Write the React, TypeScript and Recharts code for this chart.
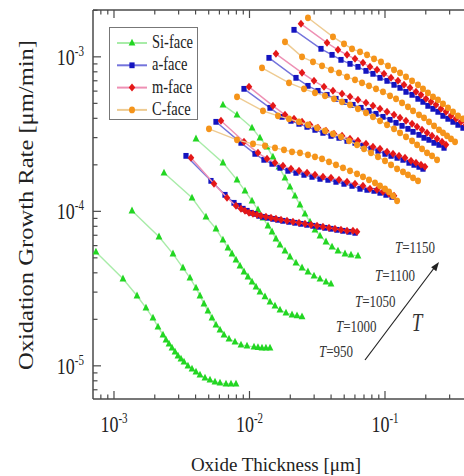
import React from 'react';
import { ScatterChart, Scatter, XAxis, YAxis, Legend } from 'recharts';

const FONT = '"Liberation Serif", "Times New Roman", Times, serif';
const AXIS = '#4a4a4a';

// ---- axes ----
const xDomain = [7e-4, 0.424];
const yDomain = [6.1e-6, 2.01e-3];
const xMajorTicks = [1e-3, 1e-2, 1e-1];
const xMajorLabels = ['-3', '-2', '-1'];
const xMinorTicks = [8e-4, 9e-4, 2e-3, 3e-3, 4e-3, 5e-3, 6e-3, 7e-3, 8e-3, 9e-3, 2e-2, 3e-2, 4e-2, 5e-2, 6e-2, 7e-2, 8e-2, 9e-2, 0.2, 0.3, 0.4];
const yMajorTicks = [1e-5, 1e-4, 1e-3];
const yMajorLabels = ['-5', '-4', '-3'];
const yMinorTicks = [7e-6, 8e-6, 9e-6, 2e-5, 3e-5, 4e-5, 5e-5, 6e-5, 7e-5, 8e-5, 9e-5, 2e-4, 3e-4, 4e-4, 5e-4, 6e-4, 7e-4, 8e-4, 9e-4, 2e-3];
const tempLabels = ['950', '1000', '1050', '1100', '1150'];

// ---- data: [thickness (um), growth rate (um/min)] ----
const si950 = [[7.36e-4,5.46e-5],[1.165e-3,3.66e-5],[1.479e-3,2.84e-5],[1.722e-3,2.37e-5],[1.94e-3,2.04e-5],[2.112e-3,1.786e-5],[2.299e-3,1.587e-5],[2.42e-3,1.473e-5],[2.547e-3,1.388e-5],[2.681e-3,1.307e-5],[2.822e-3,1.232e-5],[2.966e-3,1.16e-5],[3.122e-3,1.11e-5],[3.286e-3,1.061e-5],[3.515e-3,1.0e-5],[3.765e-3,9.56e-6],[4.029e-3,9.14e-6],[4.312e-3,8.74e-6],[4.694e-3,8.36e-6],[5.11e-3,8.11e-6],[5.564e-3,7.87e-6],[6.057e-3,7.76e-6],[6.707e-3,7.64e-6],[7.302e-3,7.64e-6],[7.95e-3,7.64e-6]];
const si1000 = [[1.358e-3,1.008e-4],[2.149e-3,6.84e-5],[2.725e-3,5.31e-5],[3.229e-3,4.31e-5],[3.638e-3,3.71e-5],[4.029e-3,3.19e-5],[4.312e-3,2.84e-5],[4.616e-3,2.52e-5],[4.937e-3,2.27e-5],[5.289e-3,2.04e-5],[5.659e-3,1.84e-5],[6.057e-3,1.71e-5],[6.484e-3,1.587e-5],[7.059e-3,1.495e-5],[7.816e-3,1.43e-5],[8.655e-3,1.367e-5],[9.588e-3,1.347e-5],[1.08e-2,1.327e-5],[1.155e-2,1.317e-5],[1.237e-2,1.307e-5],[1.323e-2,1.307e-5],[1.417e-2,1.307e-5]];
const si1050 = [[2.339e-3,1.775e-4],[3.765e-3,1.223e-4],[4.774e-3,9.21e-5],[5.659e-3,7.71e-5],[6.371e-3,6.54e-5],[6.936e-3,5.8e-5],[7.43e-3,5.31e-5],[7.95e-3,4.85e-5],[8.509e-3,4.43e-5],[9.109e-3,4.06e-5],[9.744e-3,3.77e-5],[1.044e-2,3.49e-5],[1.117e-2,3.24e-5],[1.195e-2,3.01e-5],[1.301e-2,2.8e-5],[1.417e-2,2.59e-5],[1.542e-2,2.44e-5],[1.679e-2,2.3e-5],[1.859e-2,2.2e-5],[2.06e-2,2.14e-5],[2.243e-2,2.11e-5],[2.442e-2,2.08e-5]];
const si1100 = [[4.029e-3,2.947e-4],[6.371e-3,2.061e-4],[8.09e-3,1.599e-4],[9.264e-3,1.357e-4],[1.044e-2,1.169e-4],[1.155e-2,1.023e-4],[1.257e-2,9.08e-5],[1.369e-2,8.06e-5],[1.467e-2,7.37e-5],[1.568e-2,6.64e-5],[1.679e-2,6.07e-5],[1.828e-2,5.55e-5],[1.99e-2,5.08e-5],[2.204e-2,4.64e-5],[2.442e-2,4.31e-5],[2.701e-2,4.06e-5],[2.993e-2,3.82e-5],[3.314e-2,3.655e-5],[3.67e-2,3.49e-5],[3.995e-2,3.39e-5]];
const si1150 = [[6.371e-3,4.89e-4],[8.09e-3,4.213e-4],[1.044e-2,3.471e-4],[1.195e-2,2.991e-4],[1.347e-2,2.615e-4],[1.49e-2,2.253e-4],[1.651e-2,1.941e-4],[1.828e-2,1.647e-4],[1.99e-2,1.44e-4],[2.167e-2,1.26e-4],[2.359e-2,1.102e-4],[2.568e-2,9.63e-5],[2.796e-2,8.55e-5],[3.044e-2,7.59e-5],[3.314e-2,6.94e-5],[3.67e-2,6.35e-5],[4.066e-2,5.89e-5],[4.498e-2,5.55e-5],[5.068e-2,5.31e-5],[5.612e-2,5.23e-5],[6.319e-2,5.15e-5]];

const a950 = [[3.399e-3,2.286e-4],[5.197e-3,1.575e-4],[6.594e-3,1.279e-4],[7.685e-3,1.135e-4],[8.367e-3,1.086e-4],[8.951e-3,1.039e-4],[9.588e-3,1.008e-4],[1.026e-2,9.78e-5],[1.098e-2,9.63e-5],[1.175e-2,9.35e-5],[1.257e-2,9.21e-5],[1.369e-2,9.08e-5],[1.49e-2,8.94e-5],[1.622e-2,8.81e-5],[1.766e-2,8.68e-5],[1.957e-2,8.55e-5],[2.167e-2,8.43e-5],[2.399e-2,8.3e-5],[2.658e-2,8.18e-5],[2.941e-2,8.06e-5],[3.259e-2,7.94e-5],[3.608e-2,7.82e-5],[3.995e-2,7.71e-5],[4.426e-2,7.59e-5],[4.897e-2,7.48e-5],[5.426e-2,7.37e-5],[6.007e-2,7.26e-5]];
const a1000 = [[5.659e-3,3.796e-4],[8.655e-3,2.776e-4],[1.098e-2,2.356e-4],[1.279e-2,2.155e-4],[1.467e-2,2.03e-4],[1.679e-2,1.912e-4],[1.923e-2,1.829e-4],[2.204e-2,1.775e-4],[2.525e-2,1.723e-4],[2.894e-2,1.672e-4],[3.314e-2,1.623e-4],[3.795e-2,1.599e-4],[4.349e-2,1.552e-4],[4.983e-2,1.507e-4],[5.711e-2,1.462e-4],[6.54e-2,1.399e-4],[7.369e-2,1.378e-4],[8.298e-2,1.357e-4],[9.187e-2,1.318e-4],[0.1017,1.279e-4],[0.1127,1.241e-4]];
const a1050 = [[9.109e-3,6.208e-4],[1.417e-2,4.677e-4],[1.738e-2,4.089e-4],[2.024e-2,3.853e-4],[2.32e-2,3.685e-4],[2.658e-2,3.523e-4],[3.044e-2,3.369e-4],[3.486e-2,3.222e-4],[3.995e-2,3.08e-4],[4.577e-2,2.991e-4],[5.245e-2,2.859e-4],[6.007e-2,2.776e-4],[6.879e-2,2.654e-4],[7.883e-2,2.539e-4],[8.876e-2,2.464e-4],[0.1,2.356e-4],[0.1108,2.286e-4],[0.1228,2.22e-4],[0.1358,2.155e-4],[0.1504,2.061e-4],[0.1638,2.0e-4],[0.1783,1.941e-4],[0.1907,1.884e-4]];
const a1100 = [[1.393e-2,9.85e-4],[2.204e-2,7.313e-4],[2.701e-2,6.49e-4],[3.202e-2,6.023e-4],[3.734e-2,5.676e-4],[4.349e-2,5.349e-4],[5.068e-2,5.114e-4],[5.804e-2,4.89e-4],[6.652e-2,4.677e-4],[7.621e-2,4.471e-4],[8.583e-2,4.277e-4],[9.664e-2,4.089e-4],[0.1089,3.911e-4],[0.1206,3.74e-4],[0.1336,3.576e-4],[0.1478,3.42e-4],[0.161,3.27e-4],[0.1783,3.127e-4],[0.1941,2.991e-4],[0.2113,2.903e-4],[0.2301,2.776e-4],[0.2504,2.694e-4],[0.2727,2.577e-4]];
const a1150 = [[2.131e-2,1.496e-3],[3.371e-2,1.127e-3],[4.066e-2,1.03e-3],[4.734e-2,9.563e-4],[5.518e-2,9.011e-4],[6.319e-2,8.615e-4],[7.241e-2,8.115e-4],[8.154e-2,7.764e-4],[9.187e-2,7.313e-4],[0.1035,6.991e-4],[0.1166,6.589e-4],[0.1291,6.3e-4],[0.1429,5.935e-4],[0.1584,5.676e-4],[0.1752,5.349e-4],[0.1907,5.114e-4],[0.2075,4.817e-4],[0.2261,4.608e-4],[0.2461,4.406e-4],[0.2679,4.15e-4],[0.2917,3.971e-4],[0.3176,3.796e-4],[0.3457,3.63e-4],[0.3764,3.471e-4],[0.4099,3.319e-4]];

const m950 = [[3.7e-3,2.22e-4],[5.471e-3,1.507e-4],[6.825e-3,1.223e-4],[7.95e-3,1.086e-4],[8.655e-3,1.039e-4],[9.264e-3,1.008e-4],[9.917e-3,9.78e-5],[1.061e-2,9.63e-5],[1.137e-2,9.49e-5],[1.215e-2,9.35e-5],[1.323e-2,9.21e-5],[1.441e-2,9.08e-5],[1.568e-2,8.94e-5],[1.708e-2,8.81e-5],[1.892e-2,8.68e-5],[2.094e-2,8.55e-5],[2.32e-2,8.43e-5],[2.568e-2,8.3e-5],[2.844e-2,8.18e-5],[3.151e-2,8.06e-5],[3.486e-2,7.94e-5],[3.862e-2,7.82e-5],[4.276e-2,7.71e-5],[4.734e-2,7.59e-5],[5.245e-2,7.48e-5],[5.804e-2,7.48e-5],[6.217e-2,7.37e-5]];
const m1000 = [[6.16e-3,3.852e-4],[9.109e-3,2.818e-4],[1.155e-2,2.391e-4],[1.347e-2,2.188e-4],[1.542e-2,2.061e-4],[1.766e-2,1.97e-4],[2.024e-2,1.884e-4],[2.32e-2,1.829e-4],[2.658e-2,1.775e-4],[3.044e-2,1.723e-4],[3.486e-2,1.672e-4],[3.995e-2,1.647e-4],[4.577e-2,1.599e-4],[5.245e-2,1.552e-4],[6.007e-2,1.507e-4],[6.879e-2,1.462e-4],[7.751e-2,1.399e-4],[8.734e-2,1.378e-4],[9.664e-2,1.337e-4],[0.1071,1.298e-4],[0.1166,1.26e-4]];
const m1050 = [[9.917e-3,6.395e-4],[1.49e-2,4.817e-4],[1.828e-2,4.213e-4],[2.131e-2,3.971e-4],[2.442e-2,3.796e-4],[2.796e-2,3.63e-4],[3.202e-2,3.471e-4],[3.67e-2,3.319e-4],[4.205e-2,3.175e-4],[4.818e-2,3.08e-4],[5.518e-2,2.947e-4],[6.319e-2,2.859e-4],[7.241e-2,2.735e-4],[8.154e-2,2.615e-4],[9.187e-2,2.539e-4],[0.1035,2.428e-4],[0.1146,2.356e-4],[0.1269,2.286e-4],[0.1405,2.22e-4],[0.1556,2.123e-4],[0.1694,2.061e-4],[0.1844,2.0e-4],[0.1974,1.941e-4]];
const m1100 = [[1.568e-2,1.046e-3],[2.442e-2,7.879e-4],[2.993e-2,6.991e-4],[3.548e-2,6.395e-4],[4.131e-2,6.023e-4],[4.818e-2,5.762e-4],[5.518e-2,5.509e-4],[6.319e-2,5.269e-4],[7.241e-2,5.038e-4],[8.154e-2,4.817e-4],[9.187e-2,4.608e-4],[0.1035,4.406e-4],[0.1166,4.213e-4],[0.1291,4.029e-4],[0.1429,3.853e-4],[0.1584,3.685e-4],[0.1725,3.523e-4],[0.1876,3.369e-4],[0.2043,3.222e-4],[0.2224,3.08e-4],[0.2422,2.947e-4],[0.2636,2.818e-4],[0.282,2.694e-4]];
const m1150 = [[2.399e-2,1.636e-3],[3.734e-2,1.232e-3],[4.498e-2,1.11e-3],[5.245e-2,1.03e-3],[6.007e-2,9.709e-4],[6.879e-2,9.145e-4],[7.751e-2,8.615e-4],[8.734e-2,8.239e-4],[9.834e-2,7.764e-4],[0.1108,7.313e-4],[0.1247,6.991e-4],[0.1382,6.589e-4],[0.153,6.3e-4],[0.1694,5.935e-4],[0.1844,5.676e-4],[0.2008,5.349e-4],[0.2186,5.114e-4],[0.238,4.89e-4],[0.259,4.608e-4],[0.282,4.406e-4],[0.3071,4.15e-4],[0.3343,3.971e-4],[0.3639,3.796e-4],[0.3962,3.63e-4],[0.4241,3.471e-4]];

const c950 = [[5.024e-3,3.42e-4],[8.09e-3,2.903e-4],[1.061e-2,2.735e-4],[1.301e-2,2.654e-4],[1.542e-2,2.577e-4],[1.797e-2,2.501e-4],[2.06e-2,2.428e-4],[2.359e-2,2.391e-4],[2.701e-2,2.321e-4],[3.044e-2,2.253e-4],[3.43e-2,2.188e-4],[3.862e-2,2.092e-4],[4.349e-2,2.0e-4],[4.897e-2,1.912e-4],[5.518e-2,1.829e-4],[6.217e-2,1.749e-4],[6.879e-2,1.672e-4],[7.621e-2,1.599e-4],[8.439e-2,1.529e-4],[9.187e-2,1.462e-4],[0.1,1.399e-4],[0.1071,1.337e-4],[0.1146,1.26e-4],[0.1228,1.169e-4]];
const c1000 = [[8.09e-3,5.509e-4],[1.257e-2,4.471e-4],[1.622e-2,4.15e-4],[1.957e-2,3.971e-4],[2.32e-2,3.796e-4],[2.701e-2,3.63e-4],[3.151e-2,3.471e-4],[3.608e-2,3.319e-4],[4.131e-2,3.175e-4],[4.734e-2,3.035e-4],[5.426e-2,2.859e-4],[6.217e-2,2.694e-4],[7.001e-2,2.539e-4],[7.883e-2,2.391e-4],[8.876e-2,2.253e-4],[0.1,2.123e-4],[0.1108,2.0e-4],[0.1228,1.884e-4],[0.1358,1.801e-4],[0.1478,1.723e-4],[0.161,1.647e-4],[0.1752,1.575e-4]];
const c1050 = [[1.237e-2,8.489e-4],[1.957e-2,6.789e-4],[2.525e-2,6.208e-4],[3.044e-2,5.848e-4],[3.608e-2,5.591e-4],[4.205e-2,5.349e-4],[4.818e-2,5.114e-4],[5.518e-2,4.89e-4],[6.319e-2,4.608e-4],[7.241e-2,4.341e-4],[8.154e-2,4.089e-4],[9.187e-2,3.853e-4],[0.1035,3.63e-4],[0.1166,3.42e-4],[0.1291,3.222e-4],[0.1429,3.035e-4],[0.1584,2.859e-4],[0.1725,2.694e-4],[0.1876,2.539e-4],[0.2043,2.391e-4],[0.2224,2.286e-4],[0.2422,2.155e-4]];
const c1100 = [[1.828e-2,1.25e-3],[2.442e-2,1.0e-3],[2.941e-2,9.282e-4],[3.43e-2,8.743e-4],[3.995e-2,8.239e-4],[4.577e-2,7.879e-4],[5.245e-2,7.422e-4],[6.007e-2,7.098e-4],[6.769e-2,6.789e-4],[7.621e-2,6.49e-4],[8.583e-2,6.208e-4],[9.664e-2,5.935e-4],[0.1089,5.591e-4],[0.1206,5.349e-4],[0.1336,5.038e-4],[0.1478,4.746e-4],[0.161,4.471e-4],[0.1783,4.213e-4],[0.1941,4.029e-4],[0.2113,3.796e-4],[0.2301,3.576e-4],[0.2504,3.369e-4],[0.2679,3.222e-4],[0.287,3.08e-4],[0.3071,2.947e-4],[0.3287,2.818e-4]];
const c1150 = [[2.701e-2,1.789e-3],[4.131e-2,1.347e-3],[4.983e-2,1.214e-3],[5.711e-2,1.127e-3],[6.54e-2,1.077e-3],[7.369e-2,1.03e-3],[8.298e-2,9.709e-4],[9.343e-2,9.282e-4],[0.1052,8.743e-4],[0.1166,8.239e-4],[0.1291,7.879e-4],[0.1429,7.422e-4],[0.1584,6.991e-4],[0.1752,6.589e-4],[0.1907,6.208e-4],[0.2075,5.848e-4],[0.2261,5.509e-4],[0.2461,5.269e-4],[0.2679,4.964e-4],[0.2917,4.677e-4],[0.3176,4.406e-4],[0.3457,4.15e-4],[0.3764,3.971e-4],[0.4099,3.74e-4]];

const faces = [
  { name: 'Si-face', marker: '#22d622', line: '#a8eca8', shape: 'tri', curves: [si950, si1000, si1050, si1100, si1150] },
  { name: 'a-face', marker: '#1414c0', line: '#7474dc', shape: 'sq', curves: [a950, a1000, a1050, a1100, a1150] },
  { name: 'm-face', marker: '#e41818', line: '#ee90b4', shape: 'dia', curves: [m950, m1000, m1050, m1100, m1150] },
  { name: 'C-face', marker: '#f5941a', line: '#eecb92', shape: 'circ', curves: [c950, c1000, c1050, c1100, c1150] },
];

const toPoints = (arr: number[][]) => arr.map(([x, y]) => ({ x, y }));

function Marker({ cx, cy, shape, color }: any) {
  if (cx == null || cy == null || isNaN(cx) || isNaN(cy)) return null;
  switch (shape) {
    case 'tri':
      return <polygon points={`${cx},${cy - 4.2} ${cx + 3.4},${cy + 2.6} ${cx - 3.4},${cy + 2.6}`} fill={color} />;
    case 'sq':
      return <rect x={cx - 2.6} y={cy - 2.9} width={5.2} height={5.8} fill={color} />;
    case 'dia':
      return <polygon points={`${cx},${cy - 4} ${cx + 3.3},${cy} ${cx},${cy + 4} ${cx - 3.3},${cy}`} fill={color} />;
    default:
      return <ellipse cx={cx} cy={cy} rx={3} ry={3.4} fill={color} />;
  }
}

const BottomTick = (props: any) => {
  const { x, y, payload } = props;
  const mi = xMajorTicks.indexOf(payload.value);
  const len = mi >= 0 ? 8 : 4.5;
  return (
    <g>
      <line x1={x} x2={x} y1={y} y2={y - len} stroke={AXIS} strokeWidth={1.2} />
      {mi >= 0 && (
        <text transform={`translate(${x},${y + 33}) scale(1,1.3)`} textAnchor="middle" fontFamily={FONT} fontSize={18} fill="#222">
          10<tspan dy={-7} fontSize={11}>{xMajorLabels[mi]}</tspan>
        </text>
      )}
    </g>
  );
};

const TopTick = (props: any) => {
  const { x, y, payload } = props;
  const mi = xMajorTicks.indexOf(payload.value);
  const len = mi >= 0 ? 8 : 4.5;
  return <line x1={x} x2={x} y1={y} y2={y + len} stroke={AXIS} strokeWidth={1.2} />;
};

const LeftTick = (props: any) => {
  const { x, y, payload } = props;
  const mi = yMajorTicks.indexOf(payload.value);
  const len = mi >= 0 ? 8 : 4.5;
  return (
    <g>
      <line x1={x} x2={x + len} y1={y} y2={y} stroke={AXIS} strokeWidth={1.2} />
      {mi >= 0 && (
        <text transform={`translate(${x - 9},${y + 8}) scale(1,1.3)`} textAnchor="end" fontFamily={FONT} fontSize={18} fill="#222">
          10<tspan dy={-7} fontSize={11}>{yMajorLabels[mi]}</tspan>
        </text>
      )}
    </g>
  );
};

const LegendBox = () => (
  <svg width={90} height={94} style={{ display: 'block' }}>
    <rect x={0.5} y={0.5} width={88} height={92} fill="#fff" stroke="#777" strokeWidth={1} />
    {faces.map((f, i) => {
      const cy = 16 + i * 22.3;
      return (
        <g key={f.name}>
          <line x1={8} x2={38} y1={cy} y2={cy} stroke={f.line} strokeWidth={2} />
          <Marker cx={23} cy={cy} shape={f.shape} color={f.marker} />
          <text transform={`translate(43,${cy + 5}) scale(1,1.25)`} fontFamily={FONT} fontSize={14.5} fill="#222">{f.name}</text>
        </g>
      );
    })}
  </svg>
);

const tempPos = [[319, 357], [336, 332], [355, 307], [375, 281], [395, 253]];

export default function App() {
  return (
    <div style={{ position: 'absolute', left: 0, top: 0, width: 464, height: 476, overflow: 'hidden', background: '#fff' }}>
      <ScatterChart width={480} height={476} margin={{ top: 0, right: 10, bottom: 0, left: 0 }}>
        <XAxis
          dataKey="x" type="number" scale="log" domain={xDomain} allowDataOverflow
          ticks={[...xMinorTicks, ...xMajorTicks]} interval={0} height={77}
          tickSize={0} tickMargin={0} tickLine={false} tick={BottomTick}
          axisLine={{ stroke: AXIS, strokeWidth: 1.5 }}
        />
        <XAxis
          xAxisId="top" orientation="top" dataKey="x" type="number" scale="log" domain={xDomain} allowDataOverflow
          ticks={[...xMinorTicks, ...xMajorTicks]} interval={0} height={10}
          tickSize={0} tickMargin={0} tickLine={false} tick={TopTick}
          axisLine={{ stroke: AXIS, strokeWidth: 1.5 }}
        />
        <YAxis
          dataKey="y" type="number" scale="log" domain={yDomain} allowDataOverflow
          ticks={[...yMinorTicks, ...yMajorTicks]} interval={0} width={93}
          tickSize={0} tickMargin={0} tickLine={false} tick={LeftTick}
          axisLine={{ stroke: AXIS, strokeWidth: 1.5 }}
        />
        <Legend layout="vertical" align="center" verticalAlign="middle"
          wrapperStyle={{ left: 109, top: 27, width: 90, height: 94 }}
          content={() => <LegendBox />} />
        {faces.map((f) =>
          f.curves.map((c, ti) => (
            <Scatter
              key={`${f.name}-${tempLabels[ti]}`}
              name={`${f.name} T=${tempLabels[ti]}`}
              data={toPoints(c)}
              isAnimationActive={false}
              line={{ stroke: f.line, strokeWidth: 1.4 }}
              lineType="joint"
              legendType="none"
              fill={f.marker}
              shape={(p: any) => <Marker cx={p.cx} cy={p.cy} shape={f.shape} color={f.marker} />}
            />
          ))
        )}
      </ScatterChart>
      <svg width={464} height={476} style={{ position: 'absolute', left: 0, top: 0, pointerEvents: 'none' }}>
        <text transform="translate(33,205) rotate(-90)" textAnchor="middle" fontFamily={FONT} fontSize={20}
          textLength={330} lengthAdjust="spacingAndGlyphs" fill="#222">Oxidation Growth Rate [μm/min]</text>
        <text x={276} y={471} textAnchor="middle" fontFamily={FONT} fontSize={19} fill="#222">Oxide Thickness [μm]</text>
        {tempLabels.map((t, i) => (
          <text key={t} transform={`translate(${tempPos[i][0]},${tempPos[i][1]}) scale(1,1.27)`} fontFamily={FONT} fontSize={13} fill="#333">
            <tspan fontStyle="italic">T</tspan>={t}
          </text>
        ))}
        <text transform="translate(417,331) scale(1,1.27)" textAnchor="middle" fontFamily={FONT} fontStyle="italic" fontSize={19} fill="#333">T</text>
        <line x1={365} y1={360} x2={434.5} y2={267.5} stroke="#222" strokeWidth={1.2} />
        <polygon points="439,262 436.3,271.2 431.1,267.3" fill="#222" />
      </svg>
    </div>
  );
}
